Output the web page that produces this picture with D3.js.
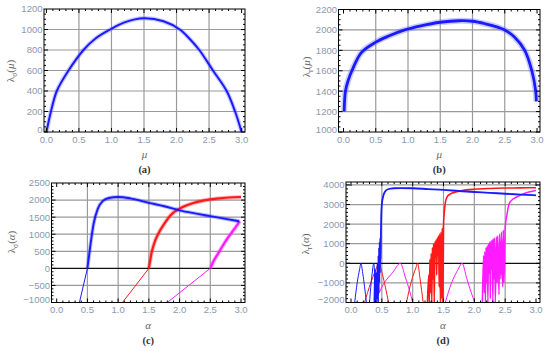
<!DOCTYPE html>
<html lang="en">
<head>
  <meta charset="UTF-8">
  <title>Lyapunov exponents</title>
  <script src="https://d3js.org/d3.v7.min.js"></script>
  <style>
    body { margin: 0; background: white; }
    svg { display: block; background: white; }
    .tick-label { font-family: 'Liberation Sans', sans-serif; font-size: 9.5px; fill: #8a98ad; }
    .axis-title { font-family: 'Liberation Serif', serif; font-size: 11px; fill: #666; }
    .panel-label { font-family: 'Liberation Serif', serif; font-size: 10.5px; font-weight: bold; fill: #333; }
    .grid { stroke: #9a9a9a; stroke-width: 1.2; }
  </style>
</head>
<body>
<svg width="550" height="351"></svg>
<script>
// ---- data ----
const xTicks = [0, 0.5, 1, 1.5, 2, 2.5, 3];
const yTicksA = [0, 200, 400, 600, 800, 1000, 1200];
const yTicksB = [1000, 1200, 1400, 1600, 1800, 2000, 2200];
const yTicksC = [-1000, -500, 0, 500, 1000, 1500, 2000, 2500];
const yTicksD = [-2000, -1000, 0, 1000, 2000, 3000, 4000];

// (a) lambda_sigma(mu)
const sigmaMu = [[0,0],[0.07,200],[0.16,400],[0.34,600],[0.57,800],[0.75,910],
  [0.98,1000],[1.2,1070],[1.5,1110],[1.8,1080],[2.05,1000],[2.2,910],[2.35,800],[2.56,600],
  [2.77,400],[2.9,200],[3.0,0]];
// (b) lambda_r(mu)
const rMu = [[0.01,1200],[0.03,1400],[0.07,1500],[0.13,1600],[0.28,1780],[0.5,1880],[0.7,1940],
  [0.95,2000],[1.2,2040],[1.5,2075],[1.8,2090],[2.0,2085],[2.2,2060],[2.4,2025],[2.5,2000],[2.65,1930],
  [2.81,1800],[2.92,1600],[2.98,1400],[2.99,1300]];

// (c) lambda_sigma(alpha)
const sigmaBlue = [[0.37,-1000],[0.5,0],[0.55,700],[0.6,1300],[0.67,1750],[0.75,1970],[0.85,2060],[1.0,2090],
  [1.2,2050],[1.5,1920],[1.75,1820],[2.0,1700],[2.25,1610],[2.5,1530],[2.75,1450],[2.97,1380]];
const sigmaRed = [[1.07,-1000],[1.5,0],[1.55,500],[1.6,800],[1.65,1000],[1.75,1300],[1.85,1550],[2.0,1750],
  [2.2,1900],[2.4,1990],[2.6,2040],[2.8,2075],[3.0,2090]];
const sigmaMagenta = [[1.8,-1000],[2.5,0],[2.55,200],[2.65,500],[2.75,800],[2.85,1050],[2.93,1250],[2.98,1380]];

// (d) lambda_r(alpha)
const rBlue = [[0.38,-2000],[0.39,-300],[0.4,-2000],[0.41,-500],[0.42,-1800],[0.43,0],[0.44,-2000],[0.445,400],
  [0.45,-1500],[0.455,800],[0.46,-1000],[0.465,1100],[0.47,-500],[0.475,1300],[0.48,200],[0.485,1500],
  [0.49,2400],[0.5,3000],[0.52,3400],[0.55,3650],[0.6,3780],[0.7,3830],[0.8,3840],[1.0,3830],[1.25,3790],
  [1.5,3750],[1.75,3690],[2.0,3640],[2.25,3600],[2.5,3550],[2.75,3510],[3.0,3470]];
const rRed = [[1.24,-2000],[1.26,-600],[1.27,-2000],[1.28,200],[1.29,-1500],[1.3,500],[1.31,-2000],[1.32,800],
  [1.33,-800],[1.34,1000],[1.35,-2000],[1.36,1100],[1.37,300],[1.38,1200],[1.39,-600],[1.4,1300],[1.41,400],
  [1.42,1400],[1.43,-1200],[1.44,1500],[1.45,-2000],[1.46,1600],[1.47,-1800],[1.48,1800],[1.49,-2000],
  [1.5,1900],[1.51,2500],[1.53,3100],[1.56,3400],[1.6,3520],[1.7,3640],[1.8,3710],[2.0,3780],[2.25,3820],
  [2.5,3840],[2.75,3850],[3.0,3860]];
const rMagenta = [[2.13,-2000],[2.15,400],[2.16,-1500],[2.17,600],[2.18,-2000],[2.19,800],[2.2,-1000],[2.21,900],
  [2.22,-2000],[2.23,1000],[2.24,-500],[2.25,1100],[2.26,-1800],[2.27,1150],[2.28,-300],[2.29,1200],
  [2.3,-2000],[2.31,1250],[2.32,-800],[2.33,1300],[2.34,-2000],[2.36,1350],[2.37,-1000],[2.38,1400],
  [2.4,-1600],[2.41,1500],[2.43,-800],[2.44,1600],[2.46,-1200],[2.47,1700],[2.48,-1000],[2.5,1800],
  [2.53,2500],[2.56,3000],[2.6,3200],[2.7,3400],[2.8,3550],[2.9,3650],[3.0,3720]];
// arches below zero in (d)
const archBlue1 = [[0.06,-2000],[0.1,-1000],[0.14,-300],[0.16,0],[0.19,-500],[0.22,-1200],[0.25,-2000]];
const archBlue2 = [[0.3,-2000],[0.34,-600],[0.37,0],[0.39,-1000],[0.41,-2000]];
const archRed1 = [[0.22,-2000],[0.32,-1000],[0.4,-350],[0.45,0],[0.52,-700],[0.57,-1400],[0.61,-2000]];
const archRed2 = [[0.9,-2000],[0.98,-900],[1.05,-250],[1.08,0],[1.12,-800],[1.17,-2000]];
const archMag1 = [[0.39,-2000],[0.52,-1100],[0.68,-450],[0.8,0],[0.88,-700],[0.95,-1400],[1.0,-2000]];
const archMag2 = [[1.53,-2000],[1.63,-1000],[1.73,-350],[1.8,0],[1.88,-800],[1.95,-1500],[2.01,-2000]];

const BLUE = "#1a1aff", RED = "#ff1a1a", MAG = "#ff1aff";

// ---- layout ----
const svg = d3.select("svg");
let clipId = 0;

function fmtY(v) { return v < 0 ? "\u2212" + Math.abs(v) : String(v); }

function panel(p) {
  const x = d3.scaleLinear().domain([0, 3]).range(p.xr);
  const y = d3.scaleLinear().domain(p.yd).range([p.f.b, p.f.t]);
  const g = svg.append("g");
  const id = "clip" + (clipId++);
  g.append("clipPath").attr("id", id).append("rect")
    .attr("x", p.f.l).attr("y", p.f.t).attr("width", p.f.r - p.f.l).attr("height", p.f.b - p.f.t);

  // grid
  g.selectAll(".gx").data(xTicks.filter(d => d > 0 && d < 3)).join("line").attr("class", "grid")
    .attr("x1", d => x(d)).attr("x2", d => x(d)).attr("y1", p.f.t).attr("y2", p.f.b);
  g.selectAll(".gy").data(p.yt.filter(d => y(d) < p.f.b - 1 && y(d) > p.f.t + 1)).join("line")
    .attr("class", "grid")
    .style("stroke", d => d === 0 ? "#111" : null)
    .attr("x1", p.f.l).attr("x2", p.f.r).attr("y1", d => y(d)).attr("y2", d => y(d));

  const plot = g.append("g").attr("clip-path", `url(#${id})`);
  const curve = p.curve || d3.curveMonotoneX;
  const line = d3.line().curve(curve).x(d => x(d[0])).y(d => y(d[1]));
  p.draw(plot, line);

  // frame + ticks
  const minorX = d3.range(0, 3.001, 0.1);
  const minorY = d3.range(p.yd[0] - (p.yd[0] % p.ym), p.yd[1], p.ym).filter(v => y(v) <= p.f.b && y(v) >= p.f.t);
  const tk = g.append("g").attr("stroke", "#000").attr("stroke-width", 1);
  minorX.forEach(v => {
    const major = Math.abs(v * 2 - Math.round(v * 2)) < 1e-6;
    const len = major ? 4 : 2;
    tk.append("line").attr("x1", x(v)).attr("x2", x(v)).attr("y1", p.f.b).attr("y2", p.f.b - len);
    tk.append("line").attr("x1", x(v)).attr("x2", x(v)).attr("y1", p.f.t).attr("y2", p.f.t + len);
  });
  minorY.forEach(v => {
    const major = p.yt.includes(Math.round(v));
    const len = major ? 4 : 2;
    tk.append("line").attr("x1", p.f.l).attr("x2", p.f.l + len).attr("y1", y(v)).attr("y2", y(v));
    tk.append("line").attr("x1", p.f.r).attr("x2", p.f.r - len).attr("y1", y(v)).attr("y2", y(v));
  });
  g.append("rect").attr("x", p.f.l).attr("y", p.f.t).attr("width", p.f.r - p.f.l).attr("height", p.f.b - p.f.t)
    .attr("fill", "none").attr("stroke", "#000").attr("stroke-width", 1);

  // tick labels
  g.selectAll(".xl").data(xTicks).join("text").attr("class", "tick-label")
    .attr("x", d => x(d)).attr("y", p.f.b + 10.5).attr("text-anchor", "middle").text(d => d.toFixed(1));
  g.selectAll(".yl").data(p.yt).join("text").attr("class", "tick-label")
    .attr("x", p.f.l - 1.5).attr("y", d => y(d) + 3.4 - (d === p.yd[0] ? 2.5 : 0))
    .attr("text-anchor", "end").text(fmtY);

  // titles
  const cx = (p.f.l + p.f.r) / 2;
  g.append("text").attr("class", "axis-title").attr("font-style", "italic")
    .attr("x", cx).attr("y", p.f.b + 26).attr("text-anchor", "middle").text(p.xv);
  g.append("text").attr("class", "panel-label")
    .attr("x", cx).attr("y", p.f.b + 41).attr("text-anchor", "middle").text(p.lab);
  const yt = g.append("text").attr("class", "axis-title").attr("text-anchor", "middle")
    .attr("transform", `translate(${p.yx},${p.yy}) rotate(-90)`);
  yt.append("tspan").text("\u03bb");
  yt.append("tspan").attr("font-size", "7.5px").attr("dy", 2.5).text(p.sub);
  yt.append("tspan").attr("dy", -2.5).text("(");
  yt.append("tspan").attr("font-style", "italic").text(p.xv);
  yt.append("tspan").text(")");
}

function band(plot, line, data, wHalo, wCore, color) {
  plot.append("path").datum(data).attr("d", line).attr("fill", "none")
    .attr("stroke", "#6b6bff").attr("stroke-opacity", 0.35).attr("stroke-width", wHalo)
    .attr("stroke-linejoin", "round");
  plot.append("path").datum(data).attr("d", line).attr("fill", "none")
    .attr("stroke", color).attr("stroke-width", wCore).attr("stroke-linejoin", "round");
}

function thinThick(plot, line, data, color, w) {
  const neg = data.filter(d => d[1] <= 0);
  const pos = data.filter(d => d[1] >= 0);
  plot.append("path").datum(neg).attr("d", line).attr("fill", "none").attr("stroke", color).attr("stroke-width", 1);
  plot.append("path").datum(pos).attr("d", line).attr("fill", "none").attr("stroke", color)
    .attr("stroke-opacity", 0.3).attr("stroke-width", w + 2).attr("stroke-linejoin", "round");
  plot.append("path").datum(pos).attr("d", line).attr("fill", "none").attr("stroke", color)
    .attr("stroke-width", w).attr("stroke-linejoin", "round");
}

function simple(plot, line, data, color, w) {
  plot.append("path").datum(data).attr("d", line).attr("fill", "none").attr("stroke", color)
    .attr("stroke-width", w).attr("stroke-linejoin", "round");
}

panel({
  f: { l: 44, r: 245, t: 9, b: 132 }, xr: [46.4, 241.6], yd: [0, 1200], yt: yTicksA, ym: 50,
  xv: "\u03bc", sub: "\u03c3", lab: "(a)", yx: 14, yy: 71, curve: d3.curveCatmullRom.alpha(0.5),
  draw: (pl, ln) => band(pl, ln, sigmaMu, 4.5, 2, BLUE)
});
panel({
  f: { l: 338.5, r: 540, t: 9.5, b: 132 }, xr: [343.5, 537], yd: [1000, 2200], yt: yTicksB, ym: 50,
  xv: "\u03bc", sub: "r", lab: "(b)", yx: 310, yy: 67, curve: d3.curveCatmullRom.alpha(0.5),
  draw: (pl, ln) => band(pl, ln, rMu, 6, 2.8, BLUE)
});
panel({
  f: { l: 51.5, r: 245, t: 183, b: 302.5 }, xr: [56.7, 241], yd: [-1000, 2500], yt: yTicksC, ym: 100,
  xv: "\u03b1", sub: "\u03c3", lab: "(c)", yx: 15, yy: 242,
  draw: (pl, ln) => {
    thinThick(pl, ln, sigmaRed, RED, 2.2);
    thinThick(pl, ln, sigmaMagenta, MAG, 2.2);
    thinThick(pl, ln, sigmaBlue, BLUE, 1.9);
  }
});
panel({
  f: { l: 346, r: 540, t: 182, b: 302.5 }, xr: [351, 536], yd: [-2000, 4150], yt: yTicksD, ym: 200,
  xv: "\u03b1", sub: "r", lab: "(d)", yx: 309, yy: 244,
  draw: (pl, ln) => {
    [archMag1, archMag2].forEach(a => simple(pl, ln, a, MAG, 1));
    [archRed1, archRed2].forEach(a => simple(pl, ln, a, RED, 1));
    [archBlue1, archBlue2].forEach(a => simple(pl, ln, a, BLUE, 1));
    simple(pl, ln, rMagenta, MAG, 1.5);
    simple(pl, ln, rRed, RED, 1.6);
    simple(pl, ln, rBlue, BLUE, 1.8);
  }
});
</script>
</body>
</html>
